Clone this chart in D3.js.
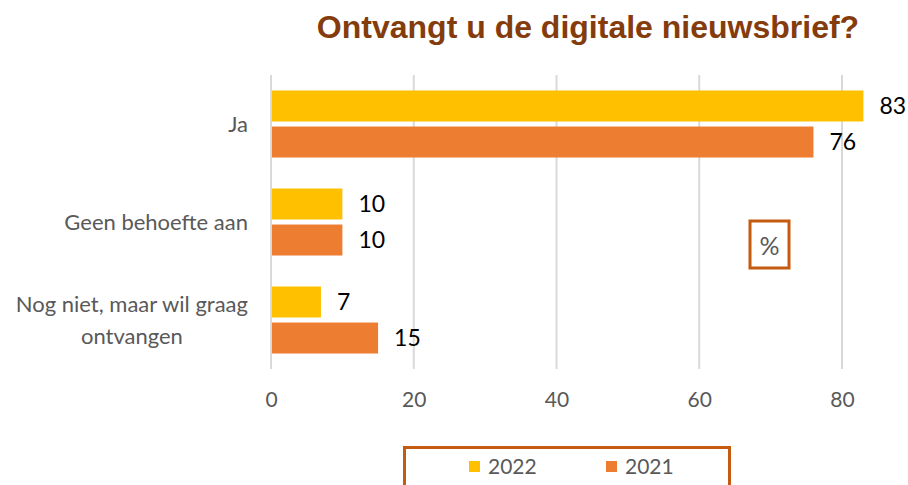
<!DOCTYPE html>
<html>
<head>
<meta charset="utf-8">
<script src="https://cdn.jsdelivr.net/npm/d3@7"></script>
<style>
  body { margin: 0; background: #fff; }
  svg { display: block; }
</style>
</head>
<body>
<div id="chart"></div>
<script>
// chart data
const categories = ["Ja", "Geen behoefte aan", "Nog niet, maar wil graag ontvangen"];
const categoryLines = [["Ja"], ["Geen behoefte aan"], ["Nog niet, maar wil graag", "ontvangen"]];
const seriesNames = ["2022", "2021"];
const values2022 = [83, 10, 7];
const values2021 = [76, 10, 15];
const xTicks = [0, 20, 40, 60, 80];

const width = 908, height = 485;
const colors = { "2022": "#FFC000", "2021": "#ED7D31" };
const bodyFont = "Lato, 'Open Sans', sans-serif";

const svg = d3.select("#chart").append("svg")
    .attr("width", width)
    .attr("height", height);

const x = d3.scaleLinear().domain([0, 80]).range([271, 842]);
const y = d3.scaleBand().domain(categories).range([75, 369]).paddingInner(0.316).paddingOuter(0.158);
const ySub = d3.scaleBand().domain(seriesNames).range([0, y.bandwidth()]).paddingInner(0.14);

// title
svg.append("text")
    .attr("x", 588)
    .attr("y", 38)
    .attr("text-anchor", "middle")
    .attr("font-family", "'Liberation Sans', Arial, sans-serif")
    .attr("font-weight", "bold")
    .attr("font-size", 32)
    .attr("fill", "#843C0C")
    .text("Ontvangt u de digitale nieuwsbrief?");

// gridlines
svg.append("g")
    .selectAll("line")
    .data(xTicks)
    .join("line")
    .attr("x1", d => x(d))
    .attr("x2", d => x(d))
    .attr("y1", 75)
    .attr("y2", 369)
    .attr("stroke", "#D9D9D9")
    .attr("stroke-width", 2);

// x axis labels
const xAxis = svg.append("g")
    .attr("transform", "translate(0,392)")
    .call(d3.axisBottom(x).tickValues(xTicks).tickSize(0).tickPadding(0));
xAxis.select(".domain").remove();
xAxis.selectAll("text")
    .attr("font-family", bodyFont)
    .attr("font-size", 21)
    .attr("fill", "#595959");

// bars
const rows = categories.map((c, i) => ({
    category: c,
    items: [
        { series: "2022", value: values2022[i] },
        { series: "2021", value: values2021[i] }
    ]
}));

const group = svg.append("g")
    .selectAll("g")
    .data(rows)
    .join("g")
    .attr("transform", d => `translate(0,${y(d.category)})`);

group.selectAll("rect")
    .data(d => d.items)
    .join("rect")
    .attr("x", x(0))
    .attr("y", d => ySub(d.series))
    .attr("width", d => x(d.value) - x(0))
    .attr("height", ySub.bandwidth())
    .attr("fill", d => colors[d.series]);

group.selectAll("text.value")
    .data(d => d.items)
    .join("text")
    .attr("class", "value")
    .attr("x", d => x(d.value) + 16)
    .attr("y", d => ySub(d.series) + ySub.bandwidth() / 2)
    .attr("dy", "0.35em")
    .attr("font-family", bodyFont)
    .attr("font-size", 23)
    .attr("fill", "#000")
    .text(d => d.value);

// axis line
svg.append("line")
    .attr("x1", x(0)).attr("x2", x(0))
    .attr("y1", 75).attr("y2", 369)
    .attr("stroke", "#D9D9D9")
    .attr("stroke-width", 2);

// category labels (wrapped lines centred on each other, block right-aligned)
const labelRight = 248;
const lineH = 32;
categoryLines.forEach((lines, i) => {
    const cy = y(categories[i]) + y.bandwidth() / 2;
    const g = svg.append("g");
    const texts = g.selectAll("text")
        .data(lines)
        .join("text")
        .attr("y", (d, j) => cy + (j - (lines.length - 1) / 2) * lineH)
        .attr("dy", "0.35em")
        .attr("text-anchor", "middle")
        .attr("font-family", bodyFont)
        .attr("font-size", 22)
        .attr("fill", "#595959")
        .text(d => d);
    const maxW = d3.max(texts.nodes(), n => n.getComputedTextLength());
    texts.attr("x", labelRight - maxW / 2);
});

// "%" box
svg.append("rect")
    .attr("x", 750).attr("y", 221)
    .attr("width", 39).attr("height", 47)
    .attr("fill", "none")
    .attr("stroke", "#C55A11")
    .attr("stroke-width", 3);
svg.append("text")
    .attr("x", 769.5).attr("y", 246)
    .attr("dy", "0.35em")
    .attr("text-anchor", "middle")
    .attr("font-family", bodyFont)
    .attr("font-size", 25)
    .attr("fill", "#595959")
    .text("%");

// legend
svg.append("rect")
    .attr("x", 404.5).attr("y", 447.5)
    .attr("width", 325).attr("height", 60)
    .attr("fill", "none")
    .attr("stroke", "#C55A11")
    .attr("stroke-width", 3);

const legendX = [469, 606];
const legend = svg.append("g")
    .selectAll("g")
    .data(seriesNames)
    .join("g")
    .attr("transform", (d, i) => `translate(${legendX[i]},467)`);
legend.append("rect")
    .attr("x", 0).attr("y", -6)
    .attr("width", 11).attr("height", 11)
    .attr("fill", d => colors[d]);
legend.append("text")
    .attr("x", 19)
    .attr("dy", "0.35em")
    .attr("font-family", bodyFont)
    .attr("font-size", 21)
    .attr("fill", "#595959")
    .text(d => d);
</script>
</body>
</html>
